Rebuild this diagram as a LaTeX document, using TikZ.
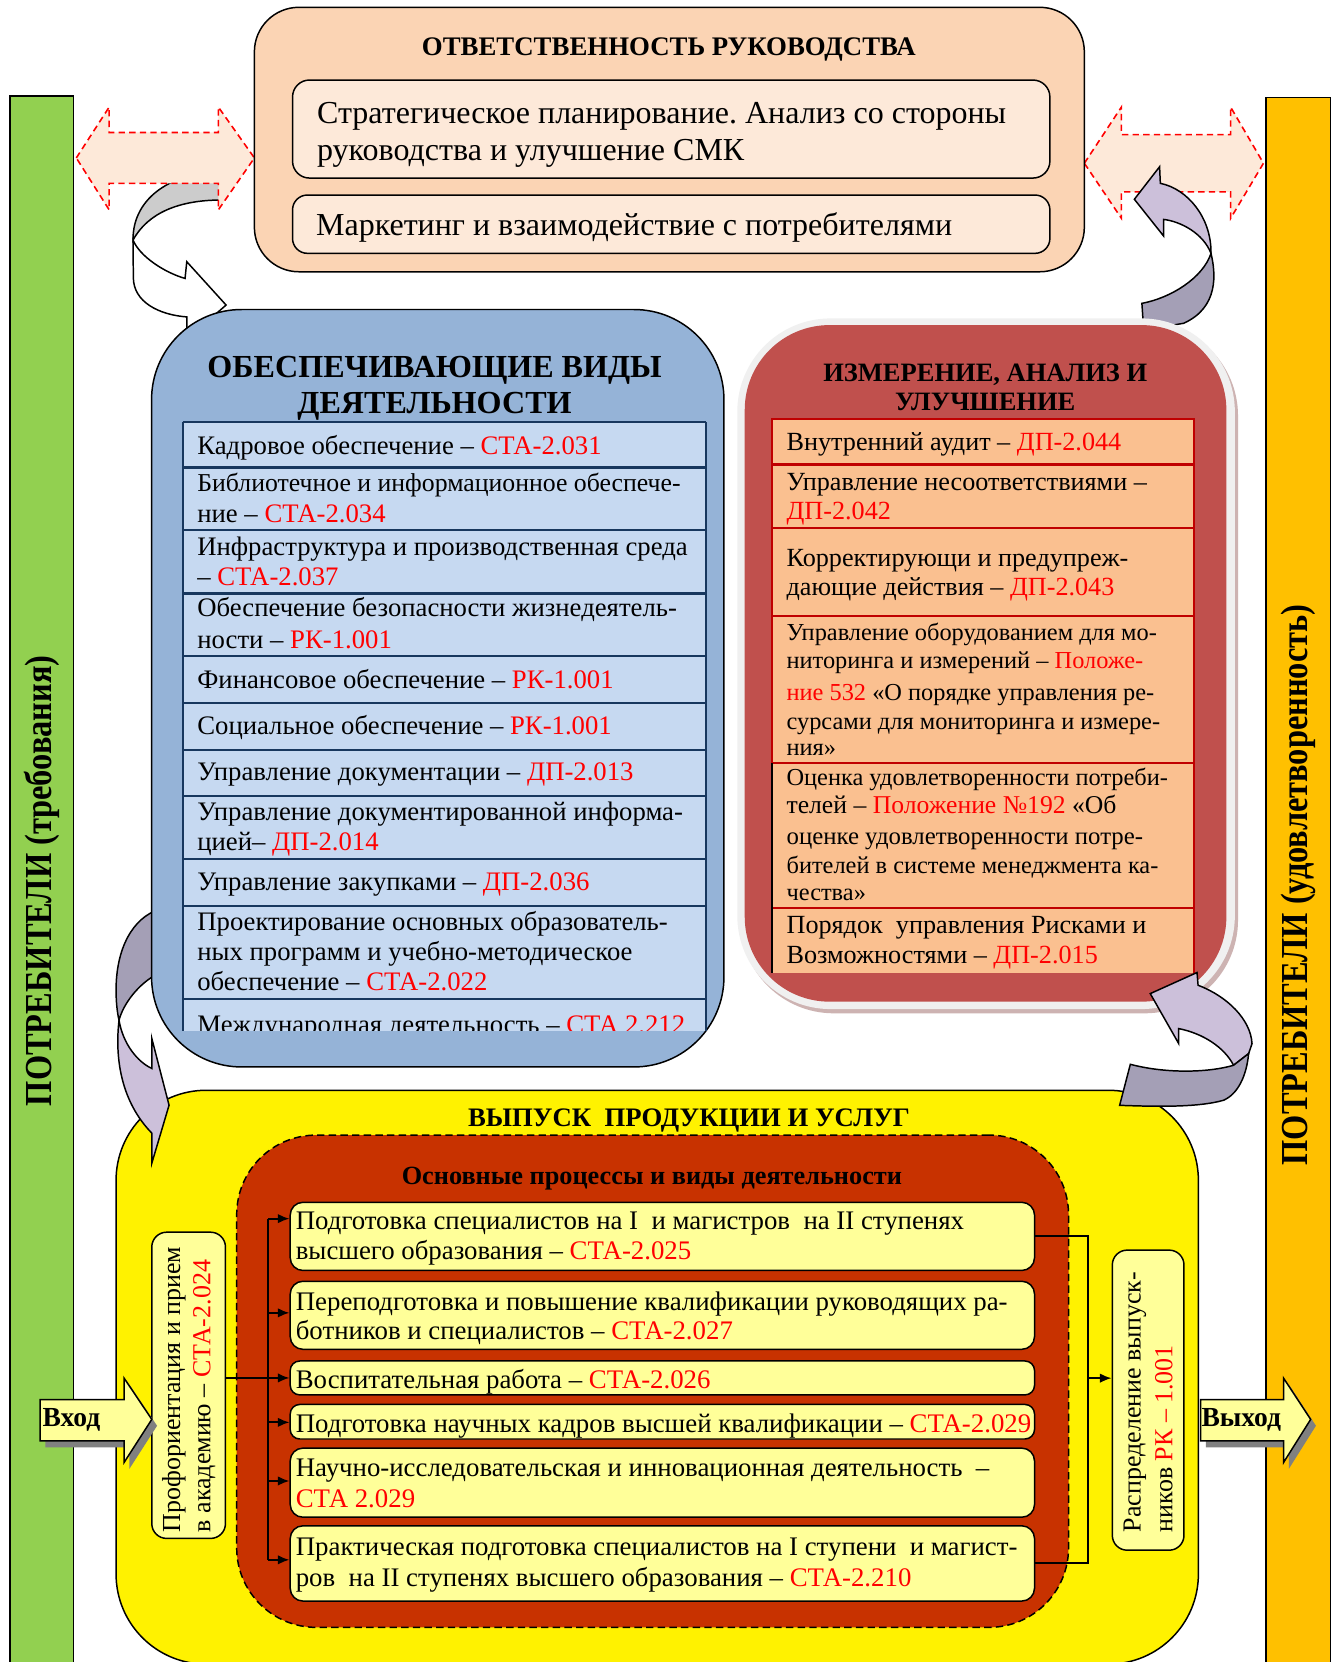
\documentclass[tikz,border=0pt]{standalone}
\usepackage{fontspec}
\setmainfont{Liberation Serif}
\usetikzlibrary{arrows.meta}
\definecolor{peach}{HTML}{FBD4B4}
\definecolor{peachl}{HTML}{FDE9D9}
\definecolor{bluebox}{HTML}{95B3D7}
\definecolor{bluecell}{HTML}{C6D9F1}
\definecolor{navy}{HTML}{17375E}
\definecolor{redbox}{HTML}{C0504D}
\definecolor{redcell}{HTML}{FAC090}
\definecolor{redline}{HTML}{C00000}
\definecolor{darkred}{HTML}{C83200}
\definecolor{paleyel}{HTML}{FFFF99}
\definecolor{greenbar}{HTML}{92D050}
\definecolor{orangebar}{HTML}{FFC000}
\definecolor{lav}{HTML}{CCC0DA}
\definecolor{lavd}{HTML}{A49FB6}
\definecolor{glow}{HTML}{F0F0F0}
\definecolor{glowsh}{HTML}{CDB3B2}
\definecolor{lgray}{HTML}{CCCCCC}
\frenchspacing
\newcommand\redt[1]{\textcolor{red}{#1}}
\newcounter{lnc}
\newcommand\Tx[4][]{\stepcounter{lnc}\node[tl,#1] (tx\arabic{lnc}) at (#2,#3) {#4};}
\tikzset{
 tl/.style={anchor=base west, inner sep=0pt, font=\fontsize{25.1}{29}\selectfont},
 bl/.style={font=\fontsize{25.2}{29}\selectfont},
 pl/.style={font=\fontsize{25.3}{29}\selectfont},
 rl/.style={font=\fontsize{24.7}{29}\selectfont},
 sm/.style={font=\fontsize{23}{26}\selectfont},
 ttl/.style={anchor=base, inner sep=0pt},
 ol/.style={draw=black, line width=1.4pt},
 pbox/.style={ol, fill=paleyel, rounded corners=12pt, inner sep=0pt},
 dbl/.style={draw=red, dash pattern=on 6pt off 4pt, line width=1.5pt, fill=peachl},
 conn/.style={line width=1.8pt},
 arr/.style={conn, -{Latex[length=11pt,width=9pt]}},
 bartext/.style={rotate=90, inner sep=0pt, font=\bfseries\fontsize{36}{40}\selectfont},
}
\begin{document}
\begin{tikzpicture}[x=1pt,y=-1pt]
\useasboundingbox (0,0) rectangle (1257,1568);
\fill[white] (0,0) rectangle (1257,1568);
% side bars
\node[ol, fill=greenbar, minimum width=60.2pt, minimum height=1484.4pt, inner sep=0pt] (gbar) at (39.4,832.8) {};
\node[ol, fill=orangebar, minimum width=61pt, minimum height=1484.8pt, inner sep=0pt] (obar) at (1224.9,834.6) {};
\node[bartext] (gtext) at (39.5,831) {\scalebox{0.85}[1]{ПОТРЕБИТЕЛИ (требования)}};
\node[bartext] (otext) at (1224.9,835) {\scalebox{0.85}[1]{ПОТРЕБИТЕЛИ (удовлетворенность)}};
% yellow box
\node[ol, fill=yellow, rounded corners=85pt, minimum width=1021.1pt, minimum height=541.4pt, inner sep=0pt] (ybox) at (620.05,1299.3) {};
% top-left curved arrow
\path[ol, fill=lgray] (207,163) .. controls (165,162) and (125,185) .. (125.5,226.5) .. controls (140,200) and (170,189) .. (207.6,188.7) -- cycle;
\path[ol, fill=white] (125.5,226.5) -- (125.8,262) .. controls (126,285) and (150,297) .. (176.2,299) -- (176.2,320) -- (213.3,287.8) -- (176.2,246.9) -- (174.6,262.7) .. controls (155,257) and (132,242) .. (125.5,226.5) -- cycle;
% left middle curved arrow
\path[ol, fill=lavd] (150,858) .. controls (125,866) and (109.5,895) .. (109.5,934) .. controls (109.5,945) and (110.5,955) .. (112.3,962.5) .. controls (116,948) and (130,928) .. (150,918) -- cycle;
\path[ol, fill=lav] (112.3,962.5) .. controls (108,1000) and (115,1040) .. (143.2,1069) -- (143.2,1097.5) -- (159.5,1042.7) -- (143.2,979.6) -- (143.2,1008) .. controls (130,1002) and (116,985) .. (112.3,962.5) -- cycle;
% dashed double arrows
\path[dbl] (72,149) -- (103,101) -- (103,125) -- (206,125) -- (206,101) -- (240,149) -- (206,198) -- (206,173) -- (103,173) -- (103,198) -- cycle;
\path[dbl] (1023,154) -- (1058,101) -- (1058,127) -- (1161,127) -- (1161,101) -- (1192,154) -- (1161,206) -- (1161,181) -- (1058,181) -- (1058,206) -- cycle;
% top-right curved arrow
\path[ol, fill=lav] (1094,157.3) -- (1070.2,188) -- (1097.8,222.7) -- (1097.8,207) .. controls (1114,209) and (1135,220) .. (1142.5,239) .. controls (1143,205) and (1120,178) .. (1094.7,173) -- cycle;
\path[ol, fill=lavd] (1142.5,239) .. controls (1147,258) and (1150,290) .. (1116.7,305) -- (1079,311.4) -- (1077.3,286.2) .. controls (1105,281) and (1135,262) .. (1142.5,239) -- cycle;
% top box
\node[ol, fill=peach, rounded corners=42pt, minimum width=783pt, minimum height=249.5pt, inner sep=0pt] (topbox) at (631.5,131.65) {};
\node[ol, fill=peachl, rounded corners=16pt, minimum width=714.5pt, minimum height=92.5pt, inner sep=0pt] (strat) at (633.25,121.75) {};
\node[ol, fill=peachl, rounded corners=14pt, minimum width=714.5pt, minimum height=55pt, inner sep=0pt] (mark) at (633.25,211.5) {};
\node[ttl, font=\bfseries\fontsize{25.3}{28}\selectfont] (toptitle) at (631,51.9) {ОТВЕТСТВЕННОСТЬ РУКОВОДСТВА};
\Tx[font=\fontsize{30.2}{34}\selectfont]{299}{116.4}{Стратегическое планирование. Анализ со стороны}
\Tx[font=\fontsize{30.2}{34}\selectfont]{299}{151}{руководства и улучшение СМК}
\Tx[font=\fontsize{30.2}{34}\selectfont]{298}{221.8}{Маркетинг и взаимодействие с потребителями}
% blue box
\node[ol, fill=bluebox, rounded corners=85pt, minimum width=540pt, minimum height=714.6pt, inner sep=0pt] (bluebx) at (413,649.3) {};
\node[ttl, font=\bfseries\fontsize{30.3}{34}\selectfont] (bt1) at (410,356) {ОБЕСПЕЧИВАЮЩИЕ ВИДЫ};
\node[ttl, font=\bfseries\fontsize{30.3}{34}\selectfont] (bt2) at (410,390) {ДЕЯТЕЛЬНОСТИ};
\begin{scope}
\clip (165,390) rectangle (680,972);
\fill[bluecell] (172.3,398.2) rectangle (666,1000);
\draw[navy, line width=2pt] (172.3,398.2) -- (172.3,1000) (666,398.2) -- (666,1000);
\foreach \yy in {398.2,441,500.1,559.9,619,663.1,707.7,751.2,810.6,854.7,942.7} \draw[navy,line width=2pt] (172.3,\yy) -- (666,\yy);
\Tx[bl]{186}{975}{Международная деятельность – \redt{СТА 2.212}}
\end{scope}
\Tx[bl]{186}{428.4}{Кадровое обеспечение – \redt{СТА-2.031}}
\Tx[bl,font=\fontsize{24.3}{29}\selectfont]{186}{464}{Библиотечное и информационное обеспече-}
\Tx[bl]{186}{493.2}{ние – \redt{СТА-2.034}}
\Tx[bl]{186}{523.7}{Инфраструктура и производственная среда}
\Tx[bl]{186}{552}{– \redt{СТА-2.037}}
\Tx[bl]{186}{581.9}{Обеспечение безопасности жизнедеятель-}
\Tx[bl]{186}{611.8}{ности – \redt{РК-1.001}}
\Tx[bl]{186}{649.6}{Финансовое обеспечение – \redt{РК-1.001}}
\Tx[bl]{186}{692.7}{Социальное обеспечение – \redt{РК-1.001}}
\Tx[bl]{186}{736.7}{Управление документации – \redt{ДП-2.013}}
\Tx[bl]{186}{773.8}{Управление документированной информа-}
\Tx[bl]{186}{802.8}{цией– \redt{ДП-2.014}}
\Tx[bl]{186}{840.5}{Управление закупками – \redt{ДП-2.036}}
\Tx[bl]{186}{877.6}{Проектирование основных образователь-}
\Tx[bl]{186}{905.9}{ных программ и учебно-методическое}
\Tx[bl]{186}{934.2}{обеспечение – \redt{СТА-2.022}}
% red box
\node[fill=glowsh, rounded corners=88pt, minimum width=469.4pt, minimum height=651.6pt, inner sep=0pt] (redsh) at (933.3,630.2) {};
\node[fill=glow, rounded corners=88pt, minimum width=469.4pt, minimum height=651.6pt, inner sep=0pt] (redglow) at (930.3,626.2) {};
\node[fill=redbox, rounded corners=80pt, minimum width=454.4pt, minimum height=638.3pt, inner sep=0pt] (redbx) at (929.8,625.85) {};
\node[ttl, font=\bfseries\fontsize{25}{28}\selectfont] (rt1) at (929.5,360.2) {ИЗМЕРЕНИЕ, АНАЛИЗ И};
\node[ttl, font=\bfseries\fontsize{25}{28}\selectfont] (rt2) at (929.5,387.5) {УЛУЧШЕНИЕ};
\fill[redcell] (728.2,395.4) rectangle (1126.7,917.9);
\draw[redline, line width=2pt] (728.2,917.9) -- (728.2,395.4) -- (1126.7,395.4) -- (1126.7,917.9);
\foreach \yy in {438.2,498,581.3,719.7,856.5} \draw[redline,line width=2pt] (728.2,\yy) -- (1126.7,\yy);
\draw[black, line width=1.5pt] (728.2,719.7) -- (728.2,917.9);
\Tx[rl]{741.9}{425.3}{Внутренний аудит – \redt{ДП-2.044}}
\Tx[rl]{741.9}{462.4}{Управление несоответствиями –}
\Tx[rl]{741.9}{489.8}{\redt{ДП-2.042}}
\Tx[rl]{741.9}{534.7}{Корректирующи и предупреж-}
\Tx[rl]{741.9}{561.5}{дающие действия – \redt{ДП-2.043}}
\Tx[sm]{741.9}{604}{Управление оборудованием для мо-}
\Tx[sm]{741.9}{630.7}{ниторинга и измерений – \redt{Положе-}}
\Tx[sm]{741.9}{660.6}{\redt{ние 532} «О порядке управления ре-}
\Tx[sm]{741.9}{688}{сурсами для мониторинга и измере-}
\Tx[sm]{741.9}{712.5}{ния»}
\Tx[sm]{741.9}{740.8}{Оценка удовлетворенности потреби-}
\Tx[font=\fontsize{24.2}{28}\selectfont]{741.9}{767.5}{телей – \redt{Положение №192} «Об}
\Tx[font=\fontsize{23.4}{28}\selectfont]{741.9}{796.5}{оценке удовлетворенности потре-}
\Tx[sm]{741.9}{824.1}{бителей в системе менеджмента ка-}
\Tx[sm]{741.9}{849.3}{чества»}
\Tx[rl]{741.9}{880.7}{Порядок\ \ управления Рисками и}
\Tx[rl]{741.9}{909}{Возможностями – \redt{ДП-2.015}}
% bottom right curved arrow (over red box)
\path[ol, fill=lav] (1085.2,937.4) -- (1129.3,917.5) -- (1130.3,929.5) .. controls (1158,940) and (1180,962) .. (1181.2,984.6) -- (1178,994) -- (1163.8,1005) .. controls (1155,988) and (1135,975) .. (1112,970.4) -- (1112,984.5) -- cycle;
\path[ol, fill=lavd] (1066.4,1004.1) .. controls (1100,1013) and (1140,1012) .. (1163.8,1005) -- (1178,994) .. controls (1176,1015) and (1168,1032) .. (1154.4,1038) .. controls (1130,1045) and (1090,1044) .. (1056.3,1042.8) -- cycle;
% yellow contents
\node[ttl, font=\bfseries\fontsize{25.2}{28}\selectfont] (yt) at (650,1062.4) {ВЫПУСК\ \ ПРОДУКЦИИ И УСЛУГ};
\node[ol, dashed, dash pattern=on 7pt off 4pt, fill=darkred, rounded corners=75pt, minimum width=784.8pt, minimum height=464.4pt, inner sep=0pt] (dbox) at (615.7,1303.1) {};
\node[ttl, font=\bfseries\fontsize{24.8}{28}\selectfont] (dt) at (615,1117.5) {Основные процессы и виды деятельности};
\node[pbox, minimum width=702.2pt, minimum height=64.3pt] (p1) at (624.9,1166.45) {};
\node[pbox, minimum width=702.2pt, minimum height=64.2pt] (p2) at (624.9,1240.9) {};
\node[pbox, minimum width=702.2pt, minimum height=32pt, rounded corners=9pt] (p3) at (624.9,1300) {};
\node[pbox, minimum width=702.2pt, minimum height=32.6pt, rounded corners=9pt] (p4) at (624.9,1341.3) {};
\node[pbox, minimum width=702.2pt, minimum height=65.2pt] (p5) at (624.9,1398.8) {};
\node[pbox, minimum width=702.2pt, minimum height=71pt] (p6) at (624.9,1475) {};
\Tx[pl]{278.9}{1160.4}{Подготовка специалистов на I\ \ и магистров\ \ на II ступенях}
\Tx[pl]{278.9}{1188.5}{высшего образования – \redt{СТА-2.025}}
\Tx[pl]{278.9}{1235.9}{Переподготовка и повышение квалификации руководящих ра-}
\Tx[pl]{278.9}{1264}{ботников и специалистов – \redt{СТА-2.027}}
\Tx[pl]{278.9}{1310.3}{Воспитательная работа – \redt{СТА-2.026}}
\Tx[pl]{278.9}{1351.9}{Подготовка научных кадров высшей квалификации – \redt{СТА-2.029}}
\Tx[pl]{278.9}{1393.1}{Научно-исследовательская и инновационная деятельность\ \ –}
\Tx[pl]{278.9}{1421.9}{\redt{СТА 2.029}}
\Tx[pl]{278.9}{1467.6}{Практическая подготовка специалистов на I ступени\ \ и магист-}
\Tx[pl]{278.9}{1496.4}{ров\ \ на II ступенях высшего образования – \redt{СТА-2.210}}
% side boxes
\node[pbox, rounded corners=14pt, minimum width=69.5pt, minimum height=288.9pt] (prof) at (177.95,1306.95) {};
\node[pbox, rounded corners=14pt, minimum width=67.6pt, minimum height=283.1pt] (dist) at (1083.2,1320.95) {};
\Tx[rotate=90,font=\fontsize{24.5}{29}\selectfont]{170}{1445.7}{Профориентация и прием}
\Tx[rotate=90,font=\fontsize{24.5}{29}\selectfont]{198.5}{1445.7}{в академию – \redt{СТА-2.024}}
\Tx[rotate=90,font=\fontsize{24.5}{29}\selectfont]{1076}{1445.6}{Распределение выпуск-}
\Tx[rotate=90,font=\fontsize{24.5}{29}\selectfont]{1106}{1445.6}{ников \redt{РК – 1.001}}
% connectors
\coordinate (b1) at (252.8,1149.7);
\coordinate (b2) at (252.8,1238.6);
\coordinate (b4) at (252.8,1341.9);
\coordinate (b5) at (252.8,1397.2);
\coordinate (b6) at (252.8,1471.6);
\coordinate (rb) at (1026.7,1300.2);
\draw[conn] (b1) -- (b6);
\draw[arr] (prof.east |- p3.west) -- (p3.west);
\draw[arr] (b1) -- (b1 -| p1.west);
\draw[arr] (b2) -- (b2 -| p2.west);
\draw[arr] (b4) -- (b4 -| p4.west);
\draw[arr] (b5) -- (b5 -| p5.west);
\draw[arr] (b6) -- (b6 -| p6.west);
\draw[conn] (p1.east) -| (rb) |- (p6.east);
\draw[arr] (rb) -- (rb -| dist.west);
% input / output arrows
\fill[gray] (42.9,1326.5) -- (122.1,1326.5) -- (122.1,1306.2) -- (148.2,1345.1) -- (122.1,1385.7) -- (122.1,1365.4) -- (42.9,1365.4) -- cycle;
\path[ol, fill=paleyel] (37.9,1320.5) -- (117.1,1320.5) -- (117.1,1300.2) -- (143.2,1339.1) -- (117.1,1379.7) -- (117.1,1359.4) -- (37.9,1359.4) -- cycle;
\fill[gray] (1137.6,1326.5) -- (1216,1326.5) -- (1216,1306.2) -- (1241.5,1345.1) -- (1216,1385.7) -- (1216,1365.4) -- (1137.6,1365.4) -- cycle;
\path[ol, fill=paleyel] (1132.6,1320.5) -- (1211,1320.5) -- (1211,1300.2) -- (1236.5,1339.1) -- (1211,1379.7) -- (1211,1359.4) -- (1132.6,1359.4) -- cycle;
\Tx[font=\bfseries\fontsize{26}{28}\selectfont]{40}{1345.8}{Вход}
\Tx[font=\bfseries\fontsize{26}{28}\selectfont]{1133.4}{1345.8}{Выход}
\end{tikzpicture}
\end{document}
